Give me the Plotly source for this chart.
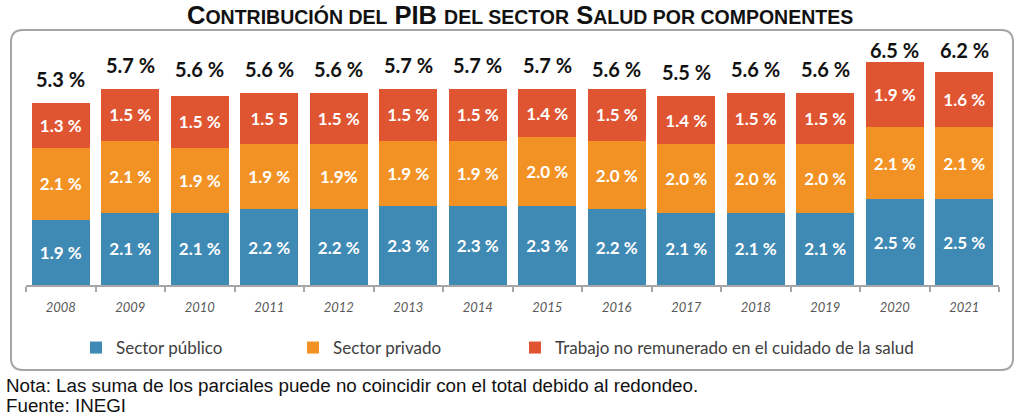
import plotly.graph_objects as go

years = ["2008", "2009", "2010", "2011", "2012", "2013", "2014", "2015", "2016", "2017", "2018", "2019", "2020", "2021"]
publico = [1.9, 2.1, 2.1, 2.2, 2.2, 2.3, 2.3, 2.3, 2.2, 2.1, 2.1, 2.1, 2.5, 2.5]
privado = [2.1, 2.1, 1.9, 1.9, 1.9, 1.9, 1.9, 2.0, 2.0, 2.0, 2.0, 2.0, 2.1, 2.1]
trabajo = [1.3, 1.5, 1.5, 1.5, 1.5, 1.5, 1.5, 1.4, 1.5, 1.4, 1.5, 1.5, 1.9, 1.6]
totales = [5.3, 5.7, 5.6, 5.6, 5.6, 5.7, 5.7, 5.7, 5.6, 5.5, 5.6, 5.6, 6.5, 6.2]
publico_txt = ["1.9 %", "2.1 %", "2.1 %", "2.2 %", "2.2 %", "2.3 %", "2.3 %", "2.3 %", "2.2 %", "2.1 %", "2.1 %", "2.1 %", "2.5 %", "2.5 %"]
privado_txt = ["2.1 %", "2.1 %", "1.9 %", "1.9 %", "1.9%", "1.9 %", "1.9 %", "2.0 %", "2.0 %", "2.0 %", "2.0 %", "2.0 %", "2.1 %", "2.1 %"]
trabajo_txt = ["1.3 %", "1.5 %", "1.5 %", "1.5 5", "1.5 %", "1.5 %", "1.5 %", "1.4 %", "1.5 %", "1.4 %", "1.5 %", "1.5 %", "1.9 %", "1.6 %"]
series_names = ["Sector público", "Sector privado", "Trabajo no remunerado en el cuidado de la salud"]
colors = ["#3f89b5", "#f39224", "#df5431"]

W, H = 1024, 418
L, R, T, B = 26, 25, 45, 133
PW, PH = W - L - R, H - T - B
PX_PER_UNIT = 34.35


def px(x):
    return (x - L) / PW


def py(y):
    return (H - B - y) / PH


FONT = "Lato"
ARIAL = "Liberation Sans, Arial"

fig = go.Figure()
legend_ids = ["legend", "legend2", "legend3"]
for vals, txt, name, col, lg in zip([publico, privado, trabajo], [publico_txt, privado_txt, trabajo_txt],
                                    series_names, colors, legend_ids):
    fig.add_trace(go.Bar(
        x=years, y=vals, name=name, marker=dict(color=col, line=dict(width=0)),
        text=txt, textposition="inside", insidetextanchor="middle", textangle=0,
        textfont=dict(family=FONT, size=17, color="white", weight="bold"),
        hoverinfo="skip", width=0.83, legend=lg,
    ))

annotations = []
for i, tot in enumerate(totales):
    top_px = H - B - tot * PX_PER_UNIT
    center_px = max(top_px - 24, 50)  # keep label inside the frame
    annotations.append(dict(
        x=i, y=tot, xref="x", yref="y", text=f"{tot:.1f} %", showarrow=False,
        yanchor="middle", yshift=top_px - center_px,
        font=dict(family=FONT, size=20, color="#111111", weight="bold"),
    ))

title = ("<b>C<span style='font-size:19.5px'>ONTRIBUCIÓN DEL</span> PIB "
         "<span style='font-size:19.5px'>DEL SECTOR</span> S"
         "<span style='font-size:19.5px'>ALUD POR COMPONENTES</span></b>")
annotations.append(dict(x=px(520), y=py(15), xref="paper", yref="paper", text=title, showarrow=False,
                        xanchor="center", yanchor="middle", font=dict(family=ARIAL, size=25.5, color="#111111")))
annotations.append(dict(x=px(4), y=py(385), xref="paper", yref="paper",
                        text="Nota: Las suma de los parciales puede no coincidir con el total debido al redondeo.",
                        showarrow=False, xanchor="left", yanchor="middle",
                        font=dict(family=ARIAL, size=18.8, color="#111111")))
annotations.append(dict(x=px(4), y=py(405), xref="paper", yref="paper", text="Fuente: INEGI",
                        showarrow=False, xanchor="left", yanchor="middle",
                        font=dict(family=ARIAL, size=18.8, color="#111111")))

# rounded frame
x0, x1, y0, y1, r = 11, 1013, 30, 370, 12
pts = [
    ("M", [(x0 + r, y0)]), ("L", [(x1 - r, y0)]), ("Q", [(x1, y0), (x1, y0 + r)]),
    ("L", [(x1, y1 - r)]), ("Q", [(x1, y1), (x1 - r, y1)]), ("L", [(x0 + r, y1)]),
    ("Q", [(x0, y1), (x0, y1 - r)]), ("L", [(x0, y0 + r)]), ("Q", [(x0, y0), (x0 + r, y0)]),
]
path = ""
for cmd, ps in pts:
    path += cmd + " ".join(f"{px(a):.5f},{py(b):.5f}" for a, b in ps) + " "
path += "Z"
shapes = [dict(type="path", path=path, xref="paper", yref="paper",
               line=dict(color="#a6a6a6", width=2), fillcolor="rgba(0,0,0,0)", layer="below")]

legend_common = dict(orientation="h", xanchor="left", y=py(348), yanchor="middle",
                     font=dict(family=FONT, size=17, color="#404040"), bgcolor="rgba(0,0,0,0)")

fig.update_layout(
    barmode="stack", width=W, height=H,
    margin=dict(l=L, r=R, t=T, b=B, pad=0),
    paper_bgcolor="white", plot_bgcolor="white",
    xaxis=dict(type="category", range=[-0.5, 13.5], showline=True, linecolor="#a6a6a6", linewidth=1.5,
               ticks="outside", tickson="boundaries", ticklen=5, tickcolor="#a6a6a6", tickwidth=1.5,
               ticklabelstandoff=10,
               tickfont=dict(family=FONT, size=13, color="#595959", style="italic"), showgrid=False),
    yaxis=dict(range=[0, PH / PX_PER_UNIT], visible=False, showgrid=False, zeroline=False),
    showlegend=True,
    legend=dict(x=px(76), **legend_common),
    legend2=dict(x=px(293), **legend_common),
    legend3=dict(x=px(515), **legend_common),
    annotations=annotations, shapes=shapes,
    uniformtext=dict(mode="show", minsize=10),
)

fig.write_html("out.html")
